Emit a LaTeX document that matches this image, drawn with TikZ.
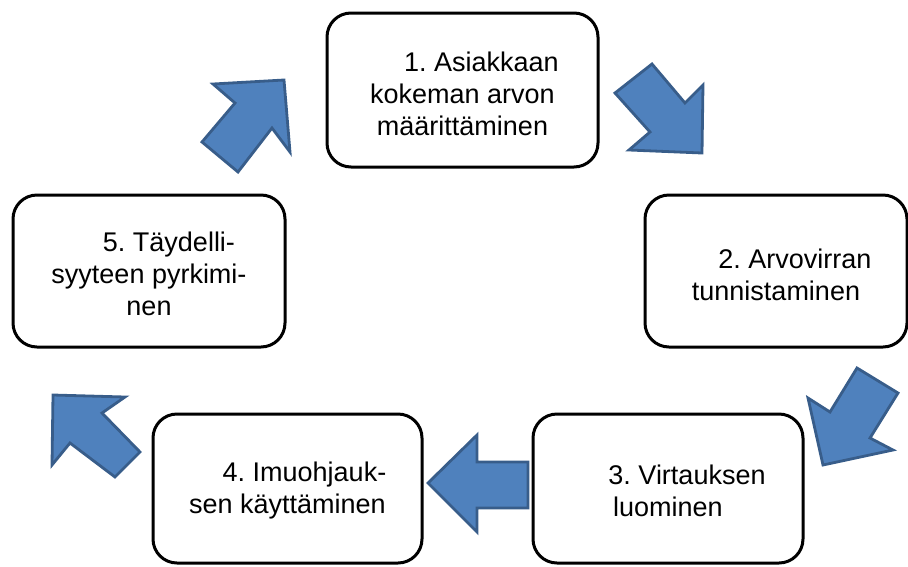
\documentclass[tikz,border=0pt]{standalone}
\usepackage{fontspec}
\setmainfont{Liberation Sans}
\definecolor{arrowfill}{RGB}{79,129,189}
\definecolor{arrowline}{RGB}{56,93,138}
\begin{document}
\frenchspacing
\begin{tikzpicture}[x=1pt,y=-1pt,
  stepbox/.style={draw=black,line width=3pt,rounded corners=24pt,fill=white,
    inner sep=0pt},
  steptext/.style={inner sep=0pt,align=center,font=\fontsize{27}{32}\selectfont},
  blockarrow/.style={fill=arrowfill,draw=arrowline,line width=2.8pt,line join=miter}]
\useasboundingbox (0,0) rectangle (908,566);

% the five steps of the cycle
\node[stepbox,minimum width=271pt,minimum height=154pt] (b1) at (462.5,90) {};
\node[stepbox,minimum width=262pt,minimum height=152pt] (b2) at (776,271) {};
\node[stepbox,minimum width=270pt,minimum height=149pt] (b3) at (668,488.5) {};
\node[stepbox,minimum width=269pt,minimum height=149pt] (b4) at (287.5,488.5) {};
\node[stepbox,minimum width=272pt,minimum height=152pt] (b5) at (149,271) {};

\node[steptext] (t1) at ([yshift=-4pt]b1.center)
  {\hspace*{38pt}1. Asiakkaan\\kokeman arvon\\määrittäminen};
\node[steptext] (t2) at ([yshift=-4pt]b2.center)
  {\hspace*{38pt}2. Arvovirran\\tunnistaminen};
\node[steptext] (t3) at ([yshift=-2pt]b3.center)
  {\hspace*{38pt}3. Virtauksen\\luominen};
\node[steptext] (t4) at ([yshift=-2pt]b4.center)
  {\hspace*{34pt}4. Imuohjauk-\\sen käyttäminen};
\node[steptext] (t5) at ([yshift=-3pt]b5.center)
  {\hspace*{40pt}5. Täydelli-\\syyteen pyrkimi-\\nen};

% block arrows between the steps
\draw[blockarrow] (652,64) -- (685,103) -- (703,85) -- (702,153) -- (629,150)
  -- (650,132) -- (615,93) -- cycle;
\draw[blockarrow] (857,368) -- (830,412) -- (808,398) -- (823,465) -- (893,450)
  -- (870,438) -- (898,393) -- cycle;
\draw[blockarrow] (428,483) -- (477,435) -- (477,462) -- (528,462) -- (528,508)
  -- (477,508) -- (477,532) -- cycle;
\draw[blockarrow] (53,395) -- (125,397) -- (102,413) -- (140,452) -- (115,477)
  -- (70,443) -- (52,465) -- cycle;
\draw[blockarrow] (202,142) -- (235,103) -- (213,84) -- (284,80) -- (290,152)
  -- (272,128) -- (238,172) -- cycle;
\end{tikzpicture}
\end{document}
